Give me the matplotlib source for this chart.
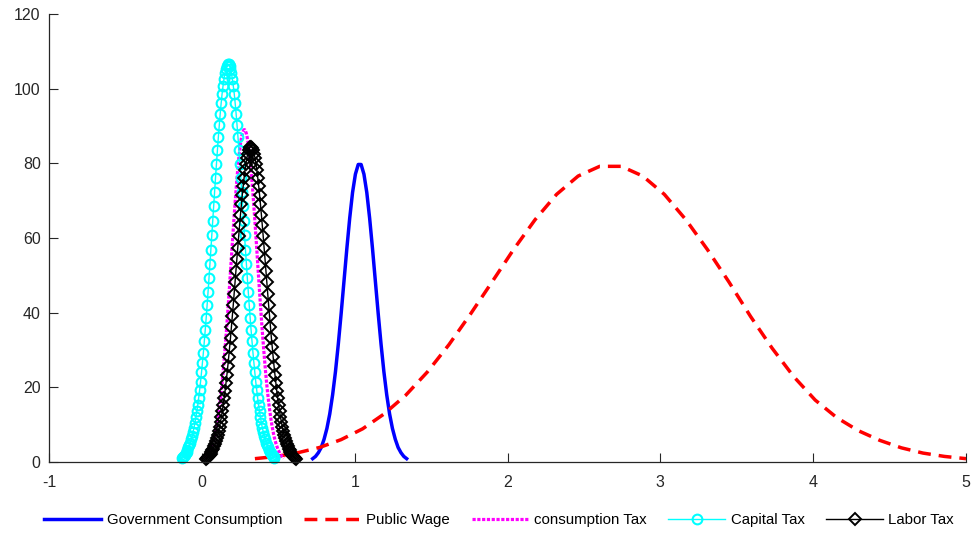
import numpy as np
import matplotlib
matplotlib.use("Agg")
import matplotlib.pyplot as plt

plt.rcParams['font.family'] = ['Liberation Sans', 'DejaVu Sans']
plt.rcParams['axes.unicode_minus'] = False

# grid end points of each density estimate
gov_range = (0.725, 1.34)
wage_range = (0.347, 5.0)
cons_range = (0.020, 0.536)
cap_range = (-0.131, 0.475)
lab_range = (0.027, 0.615)

gov_y = [0.9, 1.5, 2.5, 3.9, 6.1, 9.0, 12.9, 18.0, 24.2, 31.6, 39.8, 48.5,
         57.2, 65.3, 72.2, 77.1, 79.7, 79.7, 77.1, 72.2, 65.3, 57.2, 48.5,
         39.8, 31.6, 24.2, 18.0, 12.9, 9.0, 6.1, 3.9, 2.5, 1.5, 0.9]

wage_y = [0.9, 1.5, 2.5, 3.9, 6.0, 8.9, 12.9, 17.9, 24.1, 31.4, 39.6, 48.2,
          56.9, 64.9, 71.7, 76.6, 79.2, 79.2, 76.6, 71.7, 64.9, 56.9, 48.2,
          39.0, 30.5, 22.9, 16.6, 11.9, 8.4, 5.8, 3.8, 2.4, 1.5, 0.9]

cons_y = [1.0, 1.2, 1.4, 1.7, 2.0, 2.3, 2.8, 3.2, 3.8, 4.4, 5.1, 5.9, 6.7, 7.7,
          8.8, 10.0, 11.3, 12.8, 14.4, 16.1, 18.0, 20.0, 22.2, 24.5, 27.0,
          29.6, 32.3, 35.1, 38.1, 41.1, 44.3, 47.5, 50.7, 54.0, 57.3, 60.5,
          63.7, 66.8, 69.8, 72.7, 75.4, 77.9, 80.3, 82.4, 84.2, 85.8, 87.0,
          88.0, 88.6, 89.0,
          89.0, 88.6, 88.0, 87.0, 85.8, 84.2, 82.4, 80.3, 77.9, 75.4, 72.7,
          69.8, 66.8, 63.7, 60.5, 57.3, 54.0, 50.7, 47.5, 44.3, 41.1, 38.1,
          35.1, 32.3, 29.6, 27.0, 24.5, 22.2, 20.0, 18.0, 16.1, 14.4, 12.8,
          11.3, 10.0, 8.8, 7.7, 6.7, 5.9, 5.1, 4.4, 3.8, 3.2, 2.8, 2.3, 2.0,
          1.7, 1.4, 1.2, 1.0]

cap_y = [1.2, 1.4, 1.7, 2.0, 2.4, 2.8, 3.3, 3.9, 4.5, 5.2, 6.1, 7.0, 8.1, 9.2,
         10.5, 12.0, 13.6, 15.3, 17.2, 19.3, 21.5, 24.0, 26.6, 29.3, 32.3,
         35.4, 38.6, 42.0, 45.6, 49.2, 53.0, 56.8, 60.7, 64.6, 68.5, 72.4,
         76.2, 79.9, 83.5, 87.0, 90.2, 93.3, 96.1, 98.6, 100.7, 102.6, 104.1,
         105.3, 106.1, 106.5,
         106.5, 106.1, 105.3, 104.1, 102.6, 100.7, 98.6, 96.1, 93.3, 90.2,
         87.0, 83.5, 79.9, 76.2, 72.4, 68.5, 64.6, 60.7, 56.8, 53.0, 49.2,
         45.6, 42.0, 38.6, 35.4, 32.3, 29.3, 26.6, 24.0, 21.5, 19.3, 17.2,
         15.3, 13.6, 12.0, 10.5, 9.2, 8.1, 7.0, 6.1, 5.2, 4.5, 3.9, 3.3, 2.8,
         2.4, 2.0, 1.7, 1.4, 1.2]

lab_y = [0.9, 1.1, 1.3, 1.6, 1.9, 2.2, 2.6, 3.1, 3.6, 4.2, 4.8, 5.6, 6.4, 7.3,
         8.4, 9.5, 10.8, 12.1, 13.7, 15.3, 17.1, 19.0, 21.1, 23.3, 25.6,
         28.1, 30.7, 33.3, 36.2, 39.1, 42.0, 45.1, 48.2, 51.3, 54.4, 57.4,
         60.5, 63.4, 66.3, 69.0, 71.6, 74.0, 76.2, 78.2, 79.9, 81.4, 82.6,
         83.5, 84.2, 84.5,
         84.5, 84.2, 83.5, 82.6, 81.4, 79.9, 78.2, 76.2, 74.0, 71.6, 69.0,
         66.3, 63.4, 60.5, 57.4, 54.4, 51.3, 48.2, 45.1, 42.0, 39.1, 36.2,
         33.3, 30.7, 28.1, 25.6, 23.3, 21.1, 19.0, 17.1, 15.3, 13.7, 12.1,
         10.8, 9.5, 8.4, 7.3, 6.4, 5.6, 4.8, 4.2, 3.6, 3.1, 2.6, 2.2, 1.9,
         1.6, 1.3, 1.1, 0.9]

labels = ['Government Consumption', 'Public Wage', 'consumption Tax',
          'Capital Tax', 'Labor Tax']
x_ticks = [-1, 0, 1, 2, 3, 4, 5]
y_ticks = [0, 20, 40, 60, 80, 100, 120]


def grid(rng, vals):
    return np.linspace(rng[0], rng[1], len(vals))


fig = plt.figure(figsize=(9.75, 5.35), dpi=100)
ax = fig.add_axes([0.0503, 0.1364, 0.9405, 0.8374])

ax.plot(grid(gov_range, gov_y), gov_y, color='blue', lw=2.5, label=labels[0])
ax.plot(grid(wage_range, wage_y), wage_y, color='red', lw=2.5,
        dashes=(3.7, 2.3), label=labels[1])
ax.plot(grid(cons_range, cons_y), cons_y, color='magenta', lw=2.3,
        dashes=(1.0, 0.5), label=labels[2])
ax.plot(grid(cap_range, cap_y), cap_y, color='cyan', lw=1.0, marker='o',
        ms=7, mfc='none', mew=1.5, label=labels[3], clip_on=False)
ax.plot(grid(lab_range, lab_y), lab_y, color='black', lw=1.0, marker='D',
        ms=6, mfc='none', mew=1.4, label=labels[4], clip_on=False)

ax.set_xlim(-1, 5)
ax.set_ylim(0, 120)
ax.set_xticks(x_ticks)
ax.set_yticks(y_ticks)
for s in ['top', 'right']:
    ax.spines[s].set_visible(False)
for s in ['left', 'bottom']:
    ax.spines[s].set_color('#262626')
    ax.spines[s].set_linewidth(0.9)
ax.tick_params(direction='in', length=6.5, width=0.8, color='#262626',
               labelcolor='#262626', labelsize=11.5)
ax.tick_params(axis='y', pad=6)
ax.tick_params(axis='x', pad=9)

fig.legend(loc='center', bbox_to_anchor=(0.512, 0.028), ncol=5, frameon=False,
           fontsize=10.8, handlelength=3.8, handletextpad=0.35,
           columnspacing=1.45, numpoints=1)

fig.savefig('out.png', dpi=100)
